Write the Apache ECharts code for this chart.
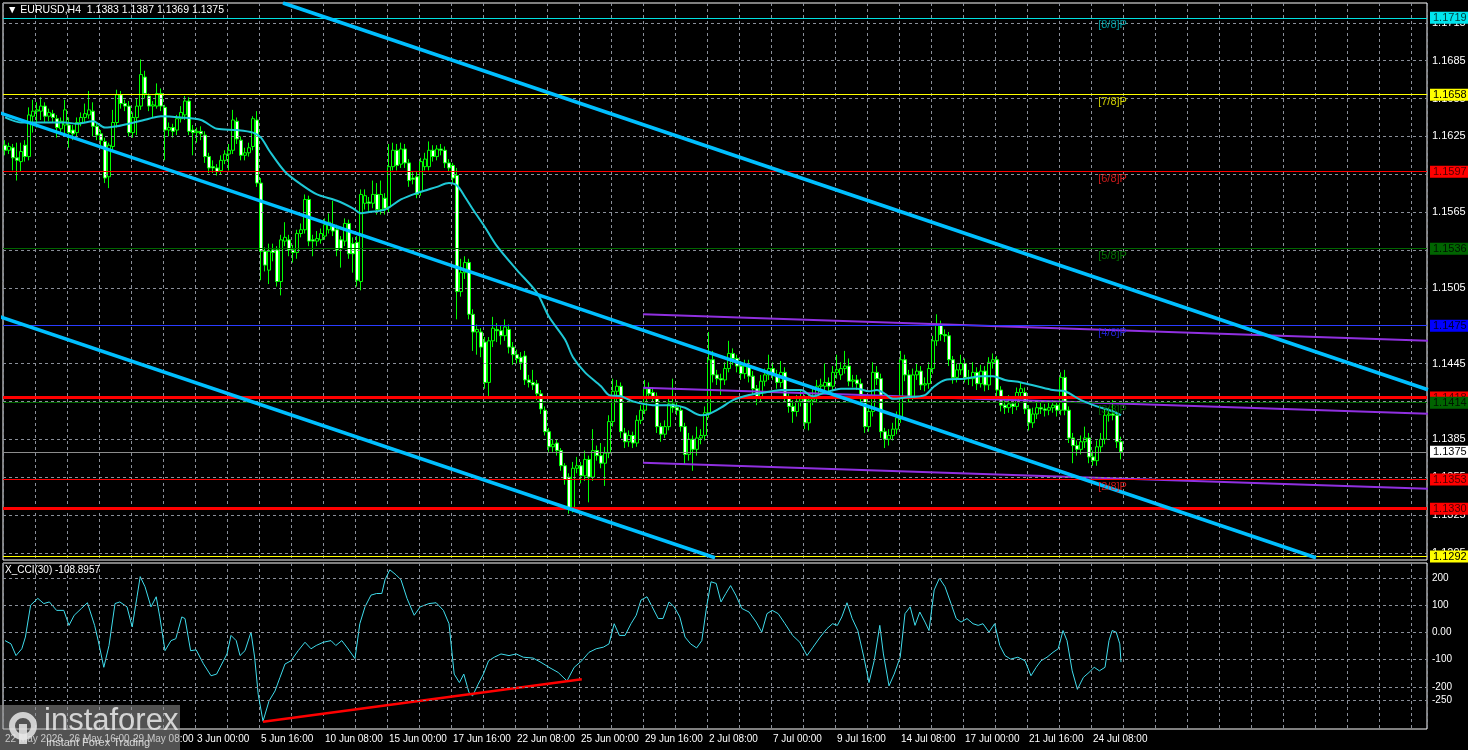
<!DOCTYPE html>
<html><head><meta charset="utf-8">
<script src="https://cdn.jsdelivr.net/npm/echarts@6/dist/echarts.min.js"></script>
<style>html,body{margin:0;padding:0;background:#000;}#c{width:1468px;height:750px;}</style>
</head><body><div id="c"></div>
<script>
// ---------- DATA ----------
const XLABELS = ['22 May 2026','26 May 16:00','29 May 08:00','3 Jun 00:00','5 Jun 16:00','10 Jun 08:00','15 Jun 00:00','17 Jun 16:00','22 Jun 08:00','25 Jun 00:00','29 Jun 16:00','2 Jul 08:00','7 Jul 00:00','9 Jul 16:00','14 Jul 08:00','17 Jul 00:00','21 Jul 16:00','24 Jul 08:00'];
const SLOTS = 356; // bar slots on the time axis (incl. right shift)
// [open, high, low, close]
const CANDLES = [
[1.1618,1.1622,1.1610,1.1614],[1.1614,1.1620,1.1611,1.1617],[1.1616,1.1619,1.1598,1.1608],[1.1608,1.1620,1.1590,1.1606],[1.1605,1.1620,1.1597,1.1613],
[1.1618,1.1622,1.1605,1.1609],[1.1609,1.1648,1.1606,1.1642],[1.1641,1.1654,1.1628,1.1645],[1.1645,1.1652,1.1632,1.1646],[1.1645,1.1656,1.1638,1.1649],
[1.1649,1.1652,1.1636,1.1641],[1.1641,1.1647,1.1637,1.1644],[1.1643,1.1646,1.1636,1.1640],[1.1639,1.1642,1.1624,1.1632],[1.1631,1.1640,1.1627,1.1637],
[1.1634,1.1654,1.1625,1.1646],[1.1634,1.1640,1.1616,1.1628],[1.1630,1.1634,1.1622,1.1627],[1.1628,1.1640,1.1625,1.1636],[1.1636,1.1644,1.1633,1.1640],
[1.1640,1.1651,1.1636,1.1643],[1.1642,1.1661,1.1639,1.1646],[1.1645,1.1652,1.1625,1.1633],[1.1633,1.1636,1.1622,1.1626],[1.1627,1.1630,1.1618,1.1622],
[1.1621,1.1624,1.1588,1.1592],[1.1593,1.1620,1.1584,1.1618],[1.1617,1.1646,1.1614,1.1636],[1.1636,1.1662,1.1632,1.1658],[1.1658,1.1661,1.1647,1.1651],
[1.1651,1.1654,1.1645,1.1649],[1.1649,1.1653,1.1625,1.1628],[1.1628,1.1644,1.1624,1.1640],[1.1640,1.1655,1.1626,1.1649],[1.1649,1.1686,1.1646,1.1674],
[1.1672,1.1677,1.1655,1.1659],[1.1657,1.1659,1.1645,1.1649],[1.1649,1.1653,1.1640,1.1650],[1.1649,1.1667,1.1647,1.1659],[1.1659,1.1663,1.1645,1.1649],
[1.1648,1.1650,1.1606,1.1630],[1.1630,1.1636,1.1625,1.1632],[1.1632,1.1635,1.1624,1.1629],[1.1630,1.1642,1.1626,1.1639],[1.1639,1.1649,1.1636,1.1644],
[1.1642,1.1657,1.1638,1.1653],[1.1653,1.1656,1.1626,1.1629],[1.1630,1.1634,1.1610,1.1628],[1.1628,1.1632,1.1620,1.1629],[1.1629,1.1633,1.1622,1.1627],
[1.1626,1.1629,1.1604,1.1609],[1.1609,1.1612,1.1596,1.1600],[1.1601,1.1606,1.1596,1.1600],[1.1600,1.1603,1.1594,1.1597],[1.1598,1.1610,1.1595,1.1606],
[1.1606,1.1614,1.1603,1.1611],[1.1611,1.1619,1.1598,1.1614],[1.1614,1.1646,1.1611,1.1638],[1.1637,1.1640,1.1619,1.1623],[1.1622,1.1625,1.1606,1.1610],
[1.1610,1.1616,1.1606,1.1612],[1.1612,1.1620,1.1609,1.1616],[1.1617,1.1641,1.1614,1.1639],[1.1638,1.1645,1.1585,1.1588],[1.1588,1.1592,1.1511,1.1534],
[1.1534,1.1537,1.1518,1.1523],[1.1519,1.1540,1.1508,1.1534],[1.1535,1.1540,1.1526,1.1533],[1.1535,1.1538,1.1506,1.1510],[1.1510,1.1547,1.1499,1.1543],
[1.1542,1.1557,1.1538,1.1545],[1.1543,1.1547,1.1530,1.1535],[1.1535,1.1539,1.1525,1.1533],[1.1533,1.1551,1.1528,1.1548],[1.1548,1.1556,1.1545,1.1551],
[1.1551,1.1579,1.1548,1.1575],[1.1575,1.1578,1.1538,1.1542],[1.1543,1.1547,1.1530,1.1542],[1.1542,1.1550,1.1538,1.1544],[1.1543,1.1552,1.1540,1.1548],
[1.1546,1.1560,1.1543,1.1555],[1.1551,1.1564,1.1548,1.1557],[1.1555,1.1574,1.1546,1.1550],[1.1551,1.1555,1.1530,1.1535],[1.1543,1.1546,1.1521,1.1536],
[1.1542,1.1560,1.1538,1.1556],[1.1556,1.1559,1.1528,1.1532],[1.1540,1.1545,1.1517,1.1532],[1.1541,1.1546,1.1506,1.1511],[1.1510,1.1583,1.1503,1.1579],
[1.1572,1.1583,1.1567,1.1578],[1.1573,1.1577,1.1566,1.1572],[1.1572,1.1590,1.1568,1.1579],[1.1579,1.1588,1.1563,1.1567],[1.1567,1.1590,1.1563,1.1579],
[1.1576,1.1580,1.1563,1.1568],[1.1569,1.1619,1.1565,1.1601],[1.1601,1.1620,1.1598,1.1614],[1.1614,1.1619,1.1598,1.1602],[1.1603,1.1620,1.1600,1.1615],
[1.1615,1.1619,1.1600,1.1604],[1.1604,1.1607,1.1585,1.1590],[1.1592,1.1597,1.1587,1.1591],[1.1593,1.1597,1.1576,1.1579],[1.1581,1.1608,1.1578,1.1605],
[1.1601,1.1612,1.1598,1.1607],[1.1601,1.1621,1.1598,1.1614],[1.1614,1.1618,1.1605,1.1609],[1.1609,1.1618,1.1606,1.1615],[1.1615,1.1619,1.1610,1.1614],
[1.1614,1.1617,1.1600,1.1604],[1.1604,1.1607,1.1597,1.1600],[1.1602,1.1604,1.1588,1.1592],[1.1594,1.1600,1.1480,1.1502],[1.1502,1.1528,1.1498,1.1517],
[1.1517,1.1530,1.1512,1.1525],[1.1525,1.1528,1.1480,1.1484],[1.1484,1.1488,1.1455,1.1470],[1.1470,1.1476,1.1452,1.1472],[1.1470,1.1473,1.1450,1.1458],
[1.1462,1.1466,1.1425,1.1430],[1.1430,1.1466,1.1418,1.1463],[1.1463,1.1482,1.1458,1.1473],[1.1472,1.1477,1.1462,1.1471],[1.1471,1.1475,1.1460,1.1467],
[1.1467,1.1480,1.1463,1.1474],[1.1472,1.1476,1.1453,1.1458],[1.1458,1.1462,1.1444,1.1452],[1.1452,1.1456,1.1445,1.1449],[1.1450,1.1454,1.1440,1.1446],
[1.1451,1.1455,1.1428,1.1432],[1.1432,1.1436,1.1426,1.1430],[1.1430,1.1440,1.1424,1.1428],[1.1429,1.1432,1.1416,1.1421],[1.1421,1.1424,1.1405,1.1409],
[1.1408,1.1411,1.1388,1.1391],[1.1391,1.1394,1.1375,1.1379],[1.1379,1.1385,1.1375,1.1381],[1.1382,1.1385,1.1372,1.1376],[1.1376,1.1378,1.1360,1.1364],
[1.1364,1.1366,1.1349,1.1353],[1.1355,1.1358,1.1326,1.1331],[1.1331,1.1367,1.1327,1.1362],[1.1362,1.1371,1.1358,1.1364],[1.1364,1.1367,1.1350,1.1356],
[1.1356,1.1376,1.1352,1.1369],[1.1369,1.1372,1.1335,1.1355],[1.1355,1.1393,1.1352,1.1376],[1.1376,1.1380,1.1368,1.1372],[1.1372,1.1382,1.1362,1.1366],
[1.1366,1.1379,1.1348,1.1374],[1.1374,1.1404,1.1370,1.1399],[1.1399,1.1433,1.1395,1.1423],[1.1423,1.1432,1.1415,1.1427],[1.1427,1.1430,1.1386,1.1391],
[1.1390,1.1394,1.1378,1.1383],[1.1383,1.1392,1.1379,1.1388],[1.1388,1.1391,1.1378,1.1382],[1.1382,1.1404,1.1379,1.1400],[1.1400,1.1412,1.1397,1.1408],
[1.1408,1.1432,1.1405,1.1425],[1.1425,1.1430,1.1417,1.1421],[1.1422,1.1426,1.1414,1.1419],[1.1419,1.1422,1.1390,1.1395],[1.1395,1.1398,1.1383,1.1389],
[1.1389,1.1400,1.1386,1.1395],[1.1395,1.1418,1.1392,1.1413],[1.1413,1.1433,1.1406,1.1410],[1.1410,1.1414,1.1404,1.1408],[1.1408,1.1411,1.1391,1.1395],
[1.1395,1.1398,1.1365,1.1373],[1.1373,1.1390,1.1368,1.1385],[1.1385,1.1388,1.1360,1.1377],[1.1377,1.1395,1.1372,1.1386],[1.1386,1.1393,1.1381,1.1388],
[1.1388,1.1411,1.1384,1.1406],[1.1406,1.1470,1.1402,1.1448],[1.1448,1.1455,1.1430,1.1436],[1.1436,1.1440,1.1428,1.1433],[1.1433,1.1437,1.1420,1.1432],
[1.1432,1.1446,1.1428,1.1441],[1.1441,1.1463,1.1438,1.1453],[1.1453,1.1457,1.1444,1.1449],[1.1449,1.1452,1.1438,1.1443],[1.1443,1.1447,1.1432,1.1437],
[1.1437,1.1448,1.1433,1.1443],[1.1443,1.1448,1.1430,1.1435],[1.1435,1.1439,1.1420,1.1425],[1.1425,1.1428,1.1412,1.1418],[1.1418,1.1436,1.1414,1.1431],
[1.1431,1.1441,1.1427,1.1436],[1.1436,1.1452,1.1432,1.1441],[1.1441,1.1446,1.1432,1.1436],[1.1436,1.1440,1.1425,1.1430],[1.1430,1.1447,1.1426,1.1438],
[1.1438,1.1442,1.1414,1.1418],[1.1418,1.1421,1.1406,1.1411],[1.1411,1.1416,1.1398,1.1407],[1.1407,1.1420,1.1403,1.1415],[1.1415,1.1424,1.1411,1.1417],
[1.1417,1.1420,1.1393,1.1398],[1.1398,1.1420,1.1392,1.1416],[1.1416,1.1425,1.1412,1.1418],[1.1418,1.1432,1.1414,1.1427],[1.1427,1.1433,1.1422,1.1428],
[1.1427,1.1445,1.1423,1.1430],[1.1430,1.1434,1.1422,1.1427],[1.1427,1.1443,1.1423,1.1438],[1.1438,1.1452,1.1433,1.1440],[1.1436,1.1446,1.1432,1.1441],
[1.1441,1.1455,1.1437,1.1443],[1.1443,1.1449,1.1427,1.1431],[1.1431,1.1436,1.1426,1.1432],[1.1432,1.1436,1.1424,1.1429],[1.1429,1.1433,1.1412,1.1417],
[1.1417,1.1420,1.1390,1.1395],[1.1395,1.1412,1.1391,1.1407],[1.1407,1.1446,1.1403,1.1438],[1.1438,1.1443,1.1428,1.1433],[1.1433,1.1437,1.1386,1.1391],
[1.1391,1.1394,1.1378,1.1385],[1.1385,1.1393,1.1380,1.1388],[1.1388,1.1398,1.1384,1.1393],[1.1393,1.1407,1.1389,1.1402],[1.1402,1.1455,1.1398,1.1448],
[1.1448,1.1452,1.1431,1.1436],[1.1436,1.1440,1.1414,1.1419],[1.1419,1.1441,1.1416,1.1436],[1.1436,1.1445,1.1432,1.1439],[1.1439,1.1443,1.1424,1.1428],
[1.1428,1.1434,1.1423,1.1429],[1.1429,1.1446,1.1425,1.1441],[1.1441,1.1467,1.1437,1.1463],[1.1463,1.1484,1.1459,1.1476],[1.1476,1.1479,1.1463,1.1468],
[1.1468,1.1472,1.1462,1.1467],[1.1467,1.1470,1.1443,1.1448],[1.1448,1.1451,1.1429,1.1434],[1.1434,1.1445,1.1430,1.1440],[1.1440,1.1452,1.1436,1.1445],
[1.1445,1.1449,1.1430,1.1434],[1.1434,1.1440,1.1428,1.1433],[1.1433,1.1446,1.1427,1.1438],[1.1438,1.1442,1.1424,1.1429],[1.1429,1.1444,1.1426,1.1439],
[1.1439,1.1443,1.1423,1.1428],[1.1428,1.1450,1.1424,1.1446],[1.1446,1.1453,1.1441,1.1448],[1.1448,1.1451,1.1419,1.1424],[1.1424,1.1427,1.1407,1.1412],
[1.1412,1.1416,1.1405,1.1410],[1.1410,1.1420,1.1406,1.1413],[1.1413,1.1417,1.1405,1.1411],[1.1411,1.1426,1.1408,1.1422],[1.1422,1.1430,1.1418,1.1425],
[1.1422,1.1426,1.1405,1.1409],[1.1409,1.1412,1.1392,1.1398],[1.1398,1.1410,1.1394,1.1405],[1.1405,1.1415,1.1401,1.1410],[1.1410,1.1414,1.1405,1.1409],
[1.1409,1.1413,1.1403,1.1408],[1.1408,1.1414,1.1404,1.1410],[1.1410,1.1416,1.1406,1.1412],[1.1412,1.1415,1.1403,1.1408],[1.1408,1.1438,1.1404,1.1434],
[1.1434,1.1440,1.1404,1.1408],[1.1408,1.1411,1.1382,1.1386],[1.1386,1.1390,1.1366,1.1380],[1.1380,1.1384,1.1372,1.1377],[1.1377,1.1388,1.1373,1.1383],
[1.1383,1.1395,1.1378,1.1386],[1.1386,1.1390,1.1366,1.1371],[1.1371,1.1376,1.1364,1.1368],[1.1368,1.1384,1.1364,1.1379],[1.1379,1.1390,1.1374,1.1385],
[1.1385,1.1409,1.1381,1.1404],[1.1404,1.1410,1.1399,1.1405],[1.1405,1.1416,1.1400,1.1404],[1.1404,1.1407,1.1378,1.1383],[1.1383,1.1387,1.1369,1.1375]
];
// moving average: [bar index, price]
const MA_POINTS = [[0,1.1640],[4,1.1636],[10,1.1636],[15,1.1636],[18,1.1635],[22,1.1637],[25,1.1632],[28,1.1633],[31,1.1635],[36,1.1639],[39,1.1641],[44,1.1640],[49,1.1638],[53,1.1631],[58,1.1630],[62,1.1628],[64,1.1624],[66,1.1614],[70,1.1597],[74,1.1587],[78,1.1579],[83,1.1574],[87,1.1568],[89,1.1564],[91,1.1565],[95,1.1567],[99,1.1575],[103,1.1580],[108,1.1585],[111,1.1588],[113,1.1586],[115,1.1577],[117,1.1567],[120,1.1553],[123,1.1538],[128,1.1519],[133,1.1501],[136,1.1482],[140,1.1464],[142,1.1450],[145,1.1438],[149,1.1427],[151,1.1420],[154,1.1419],[157,1.1415],[162,1.1412],[167,1.1412],[170,1.1410],[174,1.1404],[176,1.1405],[179,1.1410],[182,1.1416],[186,1.1420],[190,1.1422],[194,1.1424],[199,1.1424],[202,1.1419],[205,1.1422],[209,1.1425],[213,1.1425],[216,1.1423],[218,1.1424],[220,1.1421],[222,1.1417],[225,1.1418],[230,1.1420],[232,1.1426],[235,1.1432],[240,1.1433],[244,1.1435],[247,1.1435],[250,1.1432],[254,1.1430],[258,1.1427],[262,1.1424],[265,1.1423],[269,1.1416],[273,1.1411],[277,1.1407],[279,1.1404]];
// CCI(30): [bar index, value]
const CCI_POINTS = [[0,-30],[1.5,-42],[2.75,-85],[4.2,-60],[5.1,-17],[6.4,100],[8.2,125],[9.7,106],[11.1,112],[12.9,81],[14.7,81],[16,26],[17.3,63],[19.1,88],[20.6,109],[22.4,26],[23.3,-30],[24.7,-128],[26,-48],[27.5,106],[28.7,112],[30.5,94],[31.8,20],[33,131],[33.8,205],[35,168],[36.5,94],[37.8,131],[38.7,57],[40,-67],[41.5,-30],[42.7,-23],[44.2,57],[45,51],[46.4,-67],[47.8,-64],[49.6,-115],[51.5,-159],[52.9,-153],[54.2,-116],[55.5,-79],[56.5,-11],[57.8,-30],[58.75,-85],[60,-67],[61.5,1],[62.4,-90],[63.3,-227],[64.5,-326],[66,-252],[67.5,-215],[68.75,-165],[70,-116],[71.5,-104],[73.3,-67],[75,-36],[76.5,-60],[77.8,-48],[79.6,-36],[81.5,-30],[82.7,-48],[84.2,-30],[85.6,-57],[87.5,-96],[88.7,32],[90,94],[91.5,137],[92.9,143],[94.2,143],[95,193],[96.2,230],[97.8,211],[99,193],[100.5,125],[102.3,63],[103.8,94],[106,106],[107.8,109],[109.6,81],[111,32],[112.3,-153],[113.6,-184],[114.7,-153],[116,-221],[116.9,-233],[118.3,-190],[119.6,-153],[120.9,-104],[122.3,-91],[124,-79],[126,-85],[127.8,-79],[129.6,-91],[132,-94],[134,-110],[136,-128],[138.3,-147],[140.5,-178],[142.3,-128],[144.2,-104],[146,-73],[147.8,-60],[149.6,-54],[151,-42],[152.3,32],[153.6,-11],[155,-11],[156.5,32],[157.8,63],[159,119],[160.5,131],[161.8,94],[163.3,51],[164.5,51],[166,112],[167.3,94],[168.7,57],[170,-17],[171.4,-42],[172.9,-57],[174.2,-30],[175.4,94],[176.5,186],[177.8,180],[179,112],[180.2,143],[181.4,172],[182.7,137],[184.2,88],[186,75],[187.8,38],[189.2,1],[190.5,69],[191.8,81],[193.3,69],[195,32],[196.9,-11],[198.7,-36],[200.5,-85],[202,-54],[203.8,-17],[205.5,14],[206.9,32],[208.1,26],[209.2,57],[210.5,109],[211.8,51],[213.2,7],[214.7,-90],[216,-184],[217.3,-104],[218.7,26],[219.6,-79],[221,-196],[222.3,-153],[223.8,-91],[225,69],[226.3,94],[227.5,26],[228.7,75],[230,38],[231,7],[232.3,156],[233.6,199],[235,168],[236.5,106],[237.8,51],[239,38],[240.5,51],[242,32],[243.3,26],[244.5,32],[246,1],[247.4,32],[248.7,-48],[250,-85],[251.4,-98],[253.2,-91],[255,-104],[256.5,-159],[257.8,-128],[259,-104],[260.5,-91],[262,-73],[263.3,-60],[264.5,7],[265.5,-30],[266.8,-141],[268.1,-209],[269.6,-165],[271,-147],[272.3,-128],[273.6,-141],[275,-128],[276,-30],[276.8,7],[277.8,1],[278.7,-42],[279,-109]];
const CCI_TREND = [[64.5,-328],[144.2,-172]];
// price-axis tick labels
const PRICE_TICKS = [1.1295,1.1325,1.1355,1.1385,1.1415,1.1445,1.1475,1.1505,1.1535,1.1565,1.1595,1.1625,1.1655,1.1685,1.1715];
const CCI_TICKS = [200,100,0,-100,-200,-250];
const CCI_TICK_TEXT = ['200','100','0.00','-100','-200','-250'];
const CCI_MIN = -354.583, CCI_MAX = 255.0021;
const PRICE_MIN = 1.12893, PRICE_MAX = 1.17307;
// Murrey math levels and their tags
const MURREY = [1.1719,1.1658,1.1597,1.1536,1.1475,1.1414,1.1353,1.1292];
const MURREY_TAGS = ['[8/8]P','[7/8]P','[6/8]P','[5/8]P','[4/8]P','[3/8]P','[2/8]P',''];
const SR_LEVELS = [1.1418,1.1330];   // thick red support/resistance
const LAST_PRICE = 1.1375;
// linear regression channel (sky blue), anchors [bar index, price]
const CHANNEL_BLUE = [
  [[69.5,1.17307],[355.75,1.14242]],
  [[-1.25,1.16436],[327.75,1.12911]],
  [[-1.25,1.14820],[177.5,1.12911]]
];
const CHANNEL_PURPLE = [
  [[159.5,1.14840],[355.75,1.14630]],
  [[159.5,1.14258],[355.75,1.14052]],
  [[159.5,1.13664],[355.75,1.13458]]
];
const MURREY_TAG_X = 273.3;
const HEADER = 'EURUSD,H4  1.1383 1.1387 1.1369 1.1375';
const CCI_TITLE = 'X_CCI(30) -108.8957';

// ---------- STYLE ----------
const GRIDC = '#8a8f99';
const FONT = 'Liberation Sans';
const MURREY_STYLE = [
  {line:'#00e0e0', box:'#00e5ee', txt:'#004040', tag:'#00c0c8'},
  {line:'#ffff00', box:'#ffff00', txt:'#000000', tag:'#ffff00'},
  {line:'#ff0000', box:'#ff0000', txt:'#500000', tag:'#ff2020'},
  {line:'#006400', box:'#006400', txt:'#001400', tag:'#008a00'},
  {line:'#2a3cff', box:'#0000ff', txt:'#000030', tag:'#2a2aff'},
  {line:'#006400', box:'#006400', txt:'#001400', tag:'#007a00'},
  {line:'#ff0000', box:'#ff0000', txt:'#500000', tag:'#ff2020'},
  {line:'#ffff00', box:'#ffff00', txt:'#000000', tag:'#ffff00'}
];

const cats = Array.from({length: SLOTS}, (_, i) => String(i));
const candleData = CANDLES.map(r => [r[0], r[3], r[2], r[1]]);

function levelLine(v, lineColor, width, box, txt) {
  return {
    yAxis: v,
    lineStyle: {color: lineColor, width: width, type: 'solid'},
    label: {show: true, position: 'end', distance: 3, formatter: v.toFixed(4),
      backgroundColor: box, color: txt, padding: [1, 3, 0, 3], fontSize: 11, fontFamily: FONT}
  };
}

const levelData = [];
MURREY.forEach((v, k) => {
  if (k === 5) { // draw thick red 1.1418 first so 1.1414 box sits above it
    levelData.push(levelLine(SR_LEVELS[0], '#ff0000', 3, '#ff0000', '#500000'));
  }
  const s = MURREY_STYLE[k];
  levelData.push(levelLine(v, s.line, 1, s.box, s.txt));
});
levelData.push(levelLine(SR_LEVELS[1], '#ff0000', 3, '#ff0000', '#500000'));
levelData.push(levelLine(LAST_PRICE, '#8c8c8c', 1, '#ffffff', '#000000'));

const series = [];
// price grid lines + tick labels
series.push({
  type: 'line', xAxisIndex: 1, yAxisIndex: 0, data: [], z: 1, silent: true,
  markLine: {
    silent: true, symbol: ['none', 'none'], animation: false, precision: 6,
    lineStyle: {color: GRIDC, type: [3, 3], width: 1},
    label: {show: true, position: 'end', distance: 5, color: '#ffffff', fontSize: 11, fontFamily: FONT},
    data: PRICE_TICKS.map(v => ({yAxis: v, label: {formatter: v.toFixed(4)}}))
  }
});
series.push({
  type: 'candlestick', xAxisIndex: 0, yAxisIndex: 0, data: candleData, barWidth: 3, z: 3,
  itemStyle: {color: '#000000', color0: '#ffffff', borderColor: '#00ff00', borderColor0: '#00ff00', borderWidth: 1}
});
CHANNEL_PURPLE.forEach(pts => series.push({
  type: 'line', xAxisIndex: 1, yAxisIndex: 0, data: pts, symbol: 'none', z: 4, clip: true,
  lineStyle: {color: '#9030e0', width: 2}
}));
series.push({
  type: 'line', xAxisIndex: 1, yAxisIndex: 0, data: MA_POINTS, symbol: 'none', z: 5, smooth: 0.3,
  lineStyle: {color: '#1ec8d6', width: 2}
});
CHANNEL_BLUE.forEach(pts => series.push({
  type: 'line', xAxisIndex: 1, yAxisIndex: 0, data: pts, symbol: 'none', z: 6, clip: true,
  lineStyle: {color: '#00bfff', width: 3.5}
}));
series.push({
  type: 'line', xAxisIndex: 1, yAxisIndex: 0, data: [], z: 7, silent: true,
  markLine: {silent: true, symbol: ['none', 'none'], animation: false, precision: 6, data: levelData}
});
series.push({
  type: 'scatter', xAxisIndex: 1, yAxisIndex: 0, symbolSize: 0, z: 8, silent: true,
  data: MURREY.map((v, k) => ({value: [MURREY_TAG_X, v], name: MURREY_TAGS[k],
    label: {color: MURREY_STYLE[k].tag}})),
  label: {show: true, position: 'right', distance: 0, offset: [0, 7], formatter: p => p.name,
    fontSize: 11, fontFamily: FONT}
});
// CCI panel
series.push({
  type: 'line', xAxisIndex: 3, yAxisIndex: 1, data: [], z: 1, silent: true,
  markLine: {
    silent: true, symbol: ['none', 'none'], animation: false, precision: 4,
    lineStyle: {color: GRIDC, type: [3, 3], width: 1},
    label: {show: true, position: 'end', distance: 5, color: '#ffffff', fontSize: 10, fontFamily: FONT},
    data: CCI_TICKS.map((v, k) => ({yAxis: v, label: {formatter: CCI_TICK_TEXT[k]}})).concat([
      {yAxis: CCI_MAX, lineStyle: {opacity: 0}, label: {formatter: CCI_MAX.toFixed(4), offset: [0, 4]}},
      {yAxis: CCI_MIN, lineStyle: {opacity: 0}, label: {formatter: CCI_MIN.toFixed(3), offset: [0, -6]}}
    ])
  }
});
series.push({
  type: 'line', xAxisIndex: 3, yAxisIndex: 1, data: CCI_POINTS, symbol: 'none', z: 3,
  lineStyle: {color: '#3fdcec', width: 1}
});
series.push({
  type: 'line', xAxisIndex: 3, yAxisIndex: 1, data: CCI_TREND, symbol: 'none', z: 4,
  lineStyle: {color: '#ff0000', width: 2.5}
});

const vSplit = {show: true, interval: 7, lineStyle: {color: GRIDC, type: [3, 3], width: 1}};
const option = {
  backgroundColor: '#000000',
  animation: false,
  textStyle: {fontFamily: FONT},
  grid: [
    {left: 3, top: 3, width: 1424, height: 557, show: true, borderColor: '#ffffff', borderWidth: 1, backgroundColor: 'transparent'},
    {left: 3, top: 563, width: 1424, height: 166, show: true, borderColor: '#ffffff', borderWidth: 1, backgroundColor: 'transparent'}
  ],
  xAxis: [
    {type: 'category', gridIndex: 0, data: cats, boundaryGap: true, axisLine: {show: false}, axisTick: {show: false}, axisLabel: {show: false}, splitLine: vSplit},
    {type: 'value', gridIndex: 0, min: -0.5, max: SLOTS - 0.5, show: false},
    {type: 'category', gridIndex: 1, data: cats, boundaryGap: true, axisLine: {show: false}, axisTick: {show: false},
      axisLabel: {show: true, interval: 15, color: '#ffffff', fontSize: 10, fontFamily: FONT, align: 'left', margin: 5,
        formatter: (val, idx) => (idx % 16 === 0 && XLABELS[idx / 16]) ? XLABELS[idx / 16] : ''},
      splitLine: vSplit},
    {type: 'value', gridIndex: 1, min: -0.5, max: SLOTS - 0.5, show: false}
  ],
  yAxis: [
    {type: 'value', gridIndex: 0, min: PRICE_MIN, max: PRICE_MAX, show: false},
    {type: 'value', gridIndex: 1, min: CCI_MIN, max: CCI_MAX, show: false}
  ],
  graphic: [
    {type: 'text', left: 7, top: 5, z: 50, style: {text: '\u25BC ' + HEADER, fill: '#ffffff', font: '10.5px "Liberation Sans"'}},
    {type: 'text', left: 5, top: 565, z: 50, style: {text: CCI_TITLE, fill: '#ffffff', font: '10px "Liberation Sans"'}},
    {type: 'rect', left: 0, top: 705, z: 60, shape: {width: 180, height: 45}, style: {fill: 'rgba(150,150,150,0.55)'}},
    {type: 'circle', z: 61, shape: {cx: 23, cy: 726, r: 11}, style: {fill: 'none', stroke: 'rgba(230,230,230,0.85)', lineWidth: 6}},
    {type: 'rect', z: 61, shape: {x: 19, y: 724, width: 8, height: 20}, style: {fill: 'rgba(230,230,230,0.85)'}},
    {type: 'text', left: 44, top: 706, z: 61, style: {text: 'instaforex', fill: 'rgba(235,235,235,0.85)', font: '31px "Liberation Sans"'}},
    {type: 'text', left: 46, top: 737, z: 61, style: {text: 'Instant Forex Trading', fill: 'rgba(235,235,235,0.85)', font: '11px "Liberation Sans"'}}
  ],
  series: series
};
const chart = echarts.init(document.getElementById('c'), null, {renderer: 'canvas'});
chart.setOption(option);
</script>
</body></html>
